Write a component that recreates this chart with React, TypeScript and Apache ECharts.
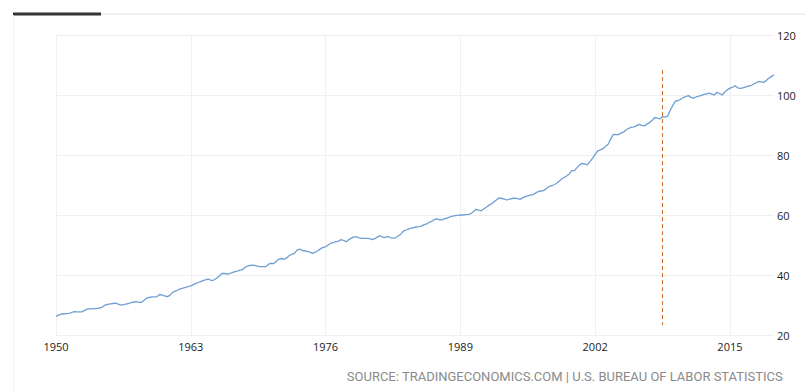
import React, { useEffect, useRef } from "react";
import * as echarts from "echarts";

const startYear = 1950;
const productivity: number[] = [
  // 1950
  26.2, 26.6, 27.0, 27.0,
  27.1, 27.2, 27.5, 27.8,
  27.7, 27.7, 27.7, 28.2,
  28.6, 28.7, 28.7, 28.8,
  28.9, 29.0, 29.4, 30.0,
  30.2, 30.4, 30.5, 30.6,
  30.3, 30.0, 30.1, 30.3,
  30.5, 30.8, 31.0, 31.1,
  30.9, 30.9, 31.6, 32.3,
  32.5, 32.7, 32.7, 32.8,
  // 1960
  33.5, 33.3, 33.0, 32.8,
  33.3, 34.2, 34.6, 35.0,
  35.4, 35.6, 35.9, 36.1,
  36.4, 36.8, 37.2, 37.5,
  37.9, 38.2, 38.5, 38.6,
  38.1, 38.4, 38.9, 39.7,
  40.5, 40.5, 40.3, 40.5,
  40.8, 41.1, 41.3, 41.6,
  41.8, 42.6, 43.0, 43.2,
  43.3, 43.1, 42.9, 42.8,
  // 1970
  42.8, 42.8, 43.6, 43.9,
  43.8, 44.6, 45.3, 45.5,
  45.3, 45.7, 46.5, 46.9,
  47.2, 48.3, 48.6, 48.2,
  48.0, 47.9, 47.6, 47.2,
  47.6, 48.1, 48.7, 49.2,
  49.4, 50.0, 50.6, 50.8,
  51.1, 51.3, 51.8, 51.5,
  51.1, 51.8, 52.3, 52.7,
  52.7, 52.4, 52.2, 52.2,
  // 1980
  52.2, 52.1, 51.8, 52.1,
  52.7, 53.1, 52.6, 52.5,
  52.9, 52.4, 52.3, 52.4,
  53.0, 53.6, 54.6, 55.0,
  55.3, 55.6, 55.8, 56.0,
  56.1, 56.3, 56.8, 57.0,
  57.6, 57.9, 58.5, 58.7,
  58.4, 58.4, 58.8, 59.0,
  59.4, 59.6, 59.8, 59.9,
  60.0, 60.0, 60.1, 60.2,
  // 1990
  60.4, 61.1, 61.9, 61.6,
  61.4, 62.0, 62.6, 63.2,
  63.7, 64.4, 65.1, 65.7,
  65.5, 65.3, 65.0, 65.3,
  65.5, 65.6, 65.5, 65.2,
  65.7, 66.1, 66.4, 66.6,
  66.8, 67.3, 67.8, 68.0,
  68.1, 68.7, 69.4, 69.7,
  70.0, 70.5, 71.2, 72.0,
  72.5, 73.0, 73.7, 74.8,
  // 2000
  74.8, 75.8, 76.7, 77.2,
  77.0, 76.7, 77.8, 78.9,
  80.2, 81.4, 81.7, 82.1,
  82.8, 83.6, 85.3, 86.9,
  86.8, 86.8, 87.3, 87.7,
  88.4, 88.9, 89.3, 89.4,
  89.8, 90.2, 89.9, 89.7,
  90.3, 90.8, 91.6, 92.5,
  92.3, 92.0, 92.8, 92.6,
  93.0, 95.0, 96.6, 98.0,
  // 2010
  98.1, 98.6, 99.1, 99.5,
  99.8, 99.2, 98.9, 99.4,
  99.6, 99.9, 100.2, 100.4,
  100.6, 100.3, 100.0, 100.9,
  100.5, 100.0, 101.0, 101.7,
  102.3, 102.6, 103.1, 102.4,
  102.2, 102.4, 102.6, 103.0,
  103.1, 103.6, 104.0, 104.5,
  104.4, 104.2, 104.8, 105.6,
  106.2, 106.7,
];

const quarters: string[] = productivity.map(
  (_, i) => `${startYear + Math.floor(i / 4)}-Q${(i % 4) + 1}`
);
const labelYears = [1950, 1963, 1976, 1989, 2002, 2015];
const markerQuarter = "2008-Q3";
const markerRange = [108.3, 23.3];
const yTicks = { min: 20, max: 120, interval: 20 };
const sourceText = "SOURCE: TRADINGECONOMICS.COM | U.S. BUREAU OF LABOR STATISTICS";

const isLabelIndex = (idx: number) => {
  const c = quarters[idx];
  if (!c || !c.endsWith("Q1")) return false;
  return labelYears.includes(parseInt(c.slice(0, 4), 10));
};

export default function App() {
  const ref = useRef<HTMLDivElement>(null);
  useEffect(() => {
    if (!ref.current) return;
    const chart = echarts.init(ref.current, null, { renderer: "svg" });
    chart.setOption({
      animation: false,
      backgroundColor: "#ffffff",
      grid: { left: 56, right: 32, top: 35, bottom: 57, containLabel: false },
      graphic: [
        { type: "line", shape: { x1: 13, y1: 14, x2: 806, y2: 14 }, style: { stroke: "#e3e3e3", lineWidth: 1 } },
        { type: "rect", shape: { x: 13, y: 12.5, width: 88, height: 3 }, style: { fill: "#333333" } },
        { type: "line", shape: { x1: 13.5, y1: 15, x2: 13.5, y2: 392 }, style: { stroke: "#f2f2f2", lineWidth: 1 } },
        {
          type: "text",
          right: 23,
          top: 370,
          style: {
            text: sourceText,
            fill: "#8a8a8a",
            font: "13px Roboto, sans-serif",
          },
        },
      ],
      xAxis: {
        type: "category",
        data: quarters,
        boundaryGap: false,
        axisLine: { show: false },
        axisTick: { show: false },
        axisLabel: {
          interval: (idx: number) => isLabelIndex(idx),
          formatter: (v: string) => v.slice(0, 4),
          color: "#222222",
          fontSize: 11,
          fontFamily: "'Open Sans', sans-serif",
          margin: 6,
        },
        splitLine: {
          show: true,
          interval: (idx: number) => isLabelIndex(idx),
          lineStyle: { color: "#f0f0f0", width: 1 },
        },
      },
      yAxis: {
        type: "value",
        position: "right",
        min: yTicks.min,
        max: yTicks.max,
        interval: yTicks.interval,
        axisLine: { show: false },
        axisTick: { show: false },
        axisLabel: {
          color: "#222222",
          fontSize: 11,
          fontFamily: "'Open Sans', sans-serif",
          margin: 3,
        },
        splitLine: { lineStyle: { color: "#f0f0f0", width: 1 } },
      },
      series: [
        {
          type: "line",
          data: productivity,
          showSymbol: false,
          symbol: "none",
          lineStyle: { color: "#6f9fd2", width: 1.3 },
          markLine: {
            silent: true,
            symbol: "none",
            label: { show: false },
            lineStyle: { color: "#c8682a", width: 1, type: [4, 3] },
            data: [
              [
                { coord: [markerQuarter, markerRange[0]] },
                { coord: [markerQuarter, markerRange[1]] },
              ],
            ],
          },
        },
      ],
    });
    return () => chart.dispose();
  }, []);
  return (
    <div
      ref={ref}
      style={{ position: "fixed", left: 0, top: 0, width: 806, height: 392 }}
    />
  );
}
